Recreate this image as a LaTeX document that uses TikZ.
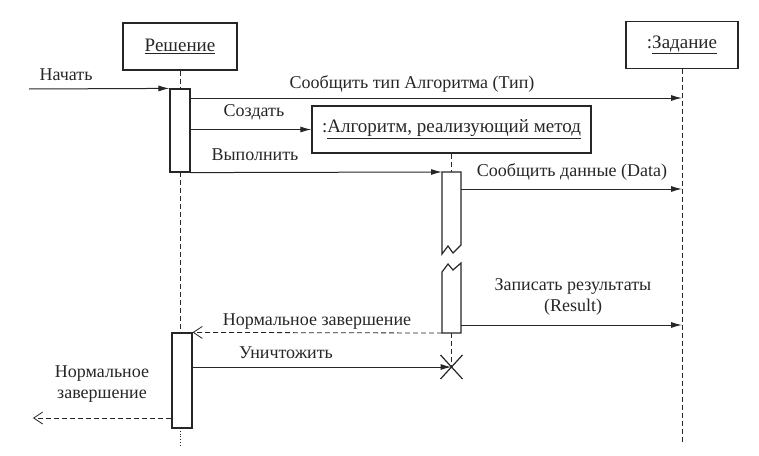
\documentclass[tikz,border=0pt]{standalone}
\usepackage{fontspec}
\setmainfont{Liberation Serif}
\usepackage{xcolor}
\usetikzlibrary{arrows.meta,calc}

\tikzset{
  obj/.style={draw, line width=1.3pt, inner sep=0pt, minimum height=47pt, font=\fontsize{19}{22}\selectfont},
  actbar/.style={draw, line width=1.2pt, fill=white, minimum width=20pt, inner sep=0pt},
  msg/.style={line width=1pt, -{Latex[length=11pt,width=6pt]}},
  ret/.style={dash pattern=on 5pt off 3pt, line width=0.8pt, -{Straight Barb[length=9pt,width=12pt]}},
  life/.style={dash pattern=on 5pt off 3pt, line width=0.7pt},
  lbl/.style={font=\fontsize{18}{21}\selectfont, inner sep=0pt, align=center}
}

\begin{document}
\begin{tikzpicture}[x=1pt, y=-1pt, color=black!85]
  \useasboundingbox (0,0) rectangle (759,455);

  % objects
  \node[obj, minimum width=114pt] (resh) at (180,46.5) {\underline{Решение}};
  \node[obj, minimum width=112pt] (zad) at (682,45) {:\underline{Задание}};
  \node[obj, minimum width=279pt] (alg) at (451.5,129.5) {:\underline{Алгоритм, реализующий метод}};

  % lifelines
  \coordinate (reshend) at (180,446);
  \coordinate (zadend) at (682,442);
  \coordinate (a2top) at (451.5,172);
  \coordinate (a2bot) at (451.5,333);
  \coordinate (kill) at (451.5,367);
  \draw[life] (resh.south) -- (180,89);
  \draw[life] (180,172) -- (180,333);
  \draw[dotted, line width=0.8pt] (180,428) -- (reshend);
  \draw[life] (zad.south) -- (zadend);
  \draw[life] (alg.south) -- (a2top);
  \draw[life] (a2bot) -- (kill);

  % activations
  \node[actbar, minimum height=83pt] (act1) at (180,130.5) {};
  \node[actbar, minimum height=95pt] (act3) at (182,380.5) {};
  \coordinate (a2nw) at (442,172);
  \coordinate (a2ne) at (461,172);
  \coordinate (a2sw) at (442,333);
  \coordinate (a2se) at (461,333);
  \draw[line width=1.2pt, fill=white] (a2nw) -- (442,254) -- (448,246) -- (453,253) -- (461,245) -- (a2ne) -- cycle;
  \draw[line width=1.2pt, fill=white] (442,272) -- (448,264) -- (453,270) -- (461,263) -- (a2se) -- (a2sw) -- cycle;

  % messages
  \coordinate (start) at (29,89);
  \coordinate (finish) at (33,418);
  \draw[msg] (start) -- (act1.north west);
  \draw[msg] (act1.east |- 0,98) -- (zad.south |- 0,98);
  \draw[msg] (act1.east |- alg.west) -- (alg.west);
  \draw[msg] (act1.south east) -- (a2nw);
  \draw[msg] (a2ne |- 0,189) -- (zad.south |- 0,189);
  \draw[msg] (a2se |- 0,325) -- (zad.south |- 0,325);
  \draw[ret] (a2sw) -- (act3.north east);
  \draw[msg] (act3.east |- kill) -- (kill);
  \draw[ret] (act3.west |- finish) -- (finish);
  \draw[line width=1.2pt] ($(kill)+(-11,-12)$) -- ($(kill)+(11,12)$)
    ($(kill)+(-11,12)$) -- ($(kill)+(11,-12)$);

  % labels
  \node[lbl] (lstart) at (66,75) {Начать};
  \node[lbl] (ltype) at (412,84) {Сообщить тип Алгоритма (Тип)};
  \node[lbl] (lcreate) at (254,112) {Создать};
  \node[lbl] (lrun) at (255,155) {Выполнить};
  \node[lbl] (ldata) at (572,172) {Сообщить данные (Data)};
  \node[lbl] (lres) at (573,297) {Записать результаты\\(Result)};
  \node[lbl] (lnorm) at (317,322) {Нормальное завершение};
  \node[lbl] (lkill) at (286,353) {Уничтожить};
  \node[lbl] (lend) at (102,384) {Нормальное\\завершение};
\end{tikzpicture}
\end{document}
